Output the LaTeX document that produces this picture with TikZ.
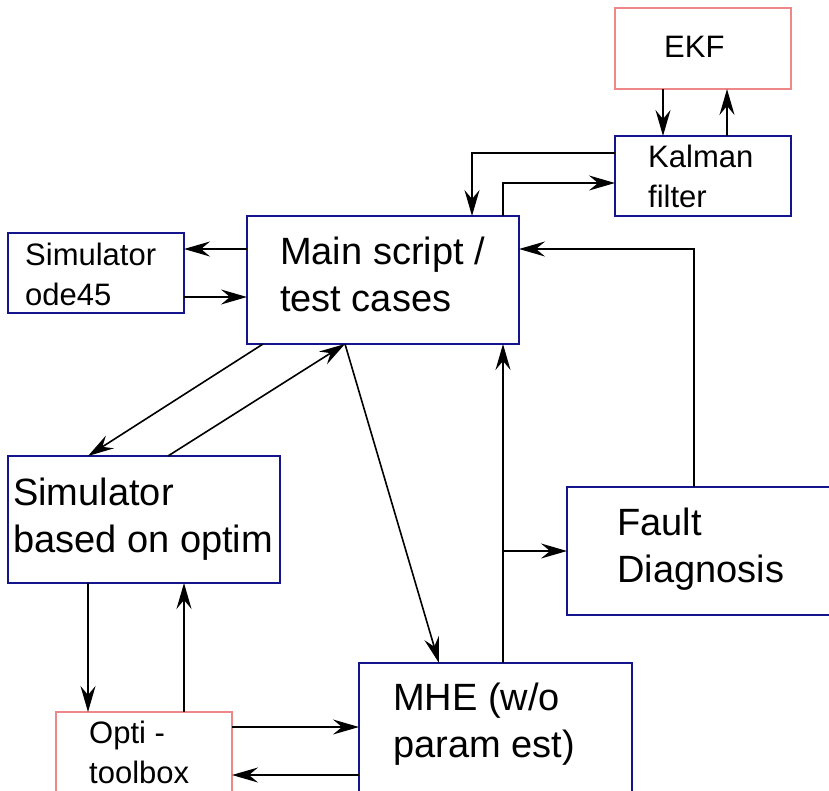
\documentclass[tikz,border=0pt]{standalone}
\usepackage{fontspec}
\setmainfont{Liberation Sans}
\usetikzlibrary{arrows.meta}
\definecolor{boxblue}{RGB}{20,20,140}
\definecolor{boxred}{RGB}{238,135,135}
\begin{document}
\begin{tikzpicture}[x=1pt,y=-1pt,
  box/.style={draw=boxblue, line width=1.5pt, inner sep=0pt, outer sep=0pt, anchor=north west},
  redbox/.style={box, draw=boxred},
  % labels are anchored on the baseline of their last line
  small/.style={anchor=base west, align=left, inner sep=0pt, font=\fontsize{31}{40}\selectfont},
  large/.style={small, font=\fontsize{38}{47}\selectfont},
  arr/.style={line width=1.6pt, -{Stealth[length=26pt,width=15pt,inset=9pt]}}]

\useasboundingbox (0,0) rectangle (829,790);
\clip (0,0) rectangle (829,790);

% blocks
\node[redbox, minimum width=176pt, minimum height=81pt]  (ekf)    at (615,8)   {};
\node[box,    minimum width=176pt, minimum height=80pt]  (kalman) at (615,136) {};
\node[box,    minimum width=272pt, minimum height=128pt] (main)   at (247,216) {};
\node[box,    minimum width=176pt, minimum height=80pt]  (ode)    at (8,233)   {};
\node[box,    minimum width=272pt, minimum height=127pt] (simopt) at (8,456)   {};
\node[box,    minimum width=300pt, minimum height=128pt] (fault)  at (567,487) {};
\node[box,    minimum width=273pt, minimum height=160pt] (mhe)    at (359,663) {};
\node[redbox, minimum width=176pt, minimum height=120pt] (opti)   at (56,712)  {};

% block labels
\node[small] (ekf-t)    at (664,57)  {EKF};
\node[small] (kalman-t) at (648,207) {Kalman\\filter};
\node[large] (main-t)   at (280,311) {Main script /\\test cases};
\node[small] (ode-t)    at (25,305)  {Simulator\\ode45};
\node[large] (simopt-t) at (13,552)  {Simulator\\based on optim};
\node[large] (fault-t)  at (617,582) {Fault\\Diagnosis};
\node[large] (mhe-t)    at (393,757) {MHE (w/o\\param est)};
\node[small] (opti-t)   at (89,783)  {Opti -\\toolbox};

% EKF <-> Kalman filter
\draw[arr] (ekf.south -| 663,0) -- (kalman.north -| 663,0);
\draw[arr] (kalman.north -| 727,0) -- (ekf.south -| 727,0);

% Kalman filter <-> main script
\draw[arr] (kalman.west |- 0,153) -| (main.north -| 472,0);
\draw[arr] (main.north -| 503,0) |- (kalman.west |- 0,183);

% main script <-> ode45 simulator
\draw[arr] (main.west |- 0,249) -- (ode.east |- 0,249);
\draw[arr] (ode.east |- 0,297) -- (main.west |- 0,297);

% fault diagnosis feedback and MHE output
\draw[arr] (fault.north -| 694,0) |- (main.east |- 0,249);
\draw[arr] (mhe.north -| 503,0) -- (main.south -| 503,0);
\coordinate (tap) at (503,551);
\draw[arr] (tap) -- (fault.west |- tap);

% main script <-> optim simulator, main script -> MHE
\draw[arr] (main.south -| 263,0) -- (simopt.north -| 88,0);
\draw[arr] (simopt.north -| 168,0) -- (main.south -| 345,0);
\draw[arr] (main.south -| 345,0) -- (mhe.north -| 439,0);

% optim simulator <-> Opti toolbox
\draw[arr] (simopt.south -| 88,0) -- (opti.north -| 88,0);
\draw[arr] (opti.north -| 184,0) -- (simopt.south -| 184,0);

% Opti toolbox <-> MHE
\draw[arr] (opti.east |- 0,727) -- (mhe.west |- 0,727);
\draw[arr] (mhe.west |- 0,775) -- (opti.east |- 0,775);
\end{tikzpicture}
\end{document}
